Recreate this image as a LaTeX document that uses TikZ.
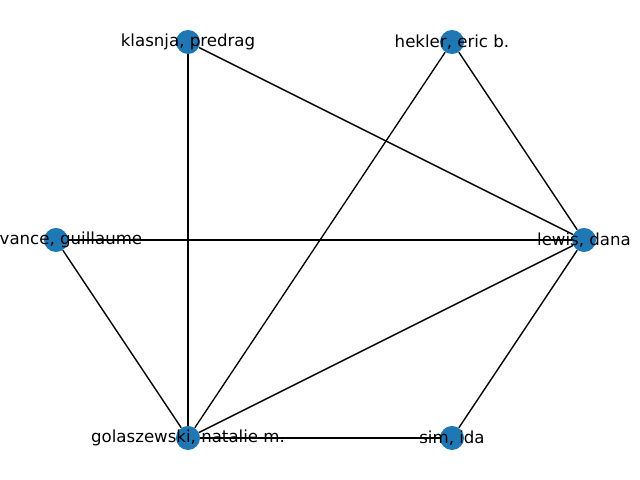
\documentclass[tikz,border=0pt]{standalone}
\usepackage{fontspec}
\setmainfont{DejaVu Sans}
\definecolor{nxblue}{RGB}{31,119,180}
\begin{document}
\begin{tikzpicture}
  [x=0.01in,y=-0.01in,
   vertex/.style={circle,fill=nxblue,minimum size=0.24in,inner sep=0pt},
   author/.style={font=\fontsize{12}{14}\selectfont,inner sep=0pt}]
  \useasboundingbox (0,0) rectangle (640,480);
  \clip (0,0) rectangle (640,480);
  \node[vertex] (klasnja) at (188,42) {};
  \node[vertex] (hekler) at (452,42) {};
  \node[vertex] (chevance) at (56,240) {};
  \node[vertex] (lewis) at (584,240) {};
  \node[vertex] (golaszewski) at (188,438) {};
  \node[vertex] (sim) at (452,438) {};

  \foreach \from/\to in {klasnja/golaszewski,klasnja/lewis,hekler/golaszewski,hekler/lewis,chevance/lewis,chevance/golaszewski,golaszewski/lewis,golaszewski/sim,sim/lewis}
    \draw[line width=1pt] (\from) -- (\to);

  \node[author] at (klasnja.center) {klasnja, predrag};
  \node[author] at (hekler.center) {hekler, eric b.};
  \node[author] at (chevance.center) {chevance, guillaume};
  \node[author] at (lewis.center) {lewis, dana};
  \node[author] at (golaszewski.center) {golaszewski, natalie m.};
  \node[author] at (sim.center) {sim, ida};
\end{tikzpicture}
\end{document}
